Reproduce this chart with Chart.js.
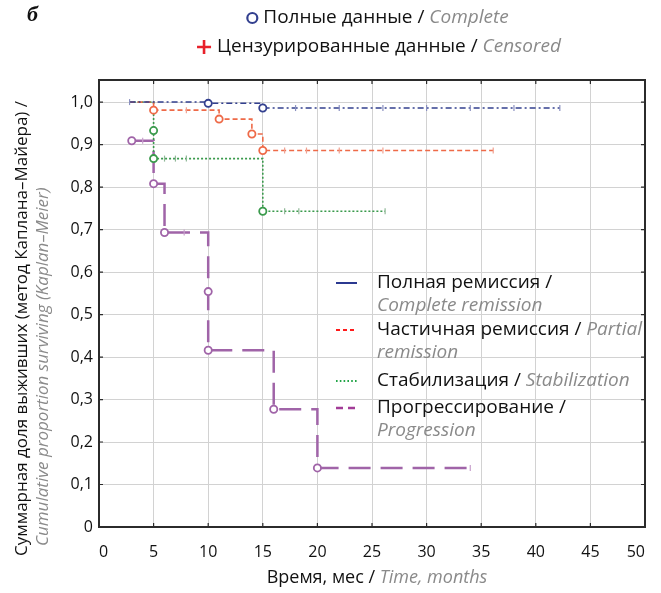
<!DOCTYPE html>
<html>
<head>
<meta charset="utf-8">
<script src="https://cdn.jsdelivr.net/npm/chart.js@4.4.1/dist/chart.umd.min.js"></script>
<style>
  html, body { margin: 0; padding: 0; background: #fff; }
  #wrap { position: relative; width: 661px; height: 593px; }
</style>
</head>
<body>
<div id="wrap"><canvas id="km" width="661" height="593"></canvas></div>
<script>
// Kaplan–Meier curves: time in months, cumulative proportion surviving
const completeTime = [2.8, 10, 15, 42.2];
const completeSurv = [1.0, 0.997, 0.986, 0.986];
const completeEventTime = [10, 15];
const completeEventSurv = [0.997, 0.986];
const completeCensorTime = [2.8, 18, 22, 26, 30, 34, 38, 42.2];

const partialTime = [2.8, 5, 11, 14, 15, 36.1];
const partialSurv = [1.0, 0.981, 0.96, 0.925, 0.886, 0.886];
const partialEventTime = [5, 11, 14, 15];
const partialEventSurv = [0.981, 0.96, 0.925, 0.886];
const partialCensorTime = [8, 17, 19, 22, 26, 36.1];

const stabTime = [2.8, 5, 5, 15, 26.2];
const stabSurv = [1.0, 0.933, 0.867, 0.743, 0.743];
const stabEventTime = [5, 5, 15];
const stabEventSurv = [0.933, 0.867, 0.743];
const stabCensorTime = [6, 7, 8, 17, 18.3, 26.2];

const progTime = [3, 5, 6, 10, 10, 16, 20, 34];
const progSurv = [0.909, 0.808, 0.693, 0.554, 0.416, 0.277, 0.139, 0.139];
const progEventTime = [3, 5, 6, 10, 10, 16, 20];
const progEventSurv = [0.909, 0.808, 0.693, 0.554, 0.416, 0.277, 0.139];
const progCensorTime = [4, 7.8, 34];

const xTicks = [0, 5, 10, 15, 20, 25, 30, 35, 40, 45, 50];
const yTicks = [0, 0.1, 0.2, 0.3, 0.4, 0.5, 0.6, 0.7, 0.8, 0.9, 1.0];

const BLUE = '#33408f';
const RED = '#ee6a48';
const GREEN = '#3a9a4c';
const PURPLE = '#a064a8';
const GRAY = '#8a8a8a';
const FONT = '"Open Sans", sans-serif';

// value of the step curve at time t
function survAt(times, surv, t) {
    let s = surv[0];
    for (let i = 0; i < times.length; i++) {
        if (times[i] <= t) s = surv[i];
    }
    return s;
}

// 'before' in Chart.js = horizontal run first, then the drop
function stepLine(times, surv, color, dash, width) {
    return {
        data: times.map((t, i) => ({ x: t, y: surv[i] })),
        stepped: 'before',
        borderColor: color,
        borderDash: dash,
        borderWidth: width,
        pointRadius: 0,
        fill: false,
        order: 3
    };
}

function eventMarks(times, surv, color) {
    return {
        data: times.map((t, i) => ({ x: t, y: surv[i] })),
        showLine: false,
        pointStyle: 'circle',
        pointRadius: 3.6,
        pointBorderWidth: 1.8,
        pointBorderColor: color,
        pointBackgroundColor: '#fff',
        order: 1
    };
}

function censorMarks(times, curveT, curveS, color) {
    return {
        data: times.map(t => ({ x: t, y: survAt(curveT, curveS, t) })),
        showLine: false,
        pointStyle: 'line',
        rotation: 90,
        pointRadius: 3,
        pointBorderWidth: 1.2,
        pointBorderColor: color,
        order: 2
    };
}

// frame with inward tick marks
const framePlugin = {
    id: 'frame',
    afterDraw(chart) {
        const { ctx, chartArea: a, scales } = chart;
        ctx.save();
        ctx.strokeStyle = '#2b2b2b';
        ctx.lineWidth = 1.2;
        ctx.beginPath();
        xTicks.forEach(v => {
            const px = scales.x.getPixelForValue(v);
            ctx.moveTo(px, a.top); ctx.lineTo(px, a.top + 4);
            ctx.moveTo(px, a.bottom); ctx.lineTo(px, a.bottom - 4);
        });
        yTicks.forEach(v => {
            const py = scales.y.getPixelForValue(v);
            ctx.moveTo(a.left, py); ctx.lineTo(a.left + 4, py);
            ctx.moveTo(a.right, py); ctx.lineTo(a.right - 4, py);
        });
        ctx.stroke();
        ctx.lineWidth = 2;
        ctx.strokeRect(a.left, a.top, a.right - a.left, a.bottom - a.top);
        ctx.restore();
    }
};

// mixed black / grey italic text runs
function runWidth(ctx, parts, size) {
    let w = 0;
    parts.forEach(([txt, it]) => {
        ctx.font = (it ? 'italic ' : '') + size + 'px ' + FONT;
        w += ctx.measureText(txt).width;
    });
    return w;
}
function drawRuns(ctx, parts, x, y, size) {
    let cx = x;
    ctx.textBaseline = 'middle';
    ctx.textAlign = 'left';
    parts.forEach(([txt, it]) => {
        ctx.font = (it ? 'italic ' : '') + size + 'px ' + FONT;
        ctx.fillStyle = it ? GRAY : '#111';
        ctx.fillText(txt, cx, y);
        cx += ctx.measureText(txt).width;
    });
}

const textPlugin = {
    id: 'texts',
    afterDraw(chart) {
        const ctx = chart.ctx;
        ctx.save();

        // panel letter
        ctx.font = 'italic bold 22px "Liberation Serif", serif';
        ctx.fillStyle = '#111';
        ctx.textBaseline = 'middle';
        ctx.fillText('б', 27, 15);

        // marker legend, both rows centred on one axis
        const mid = 378;
        const row1 = [['Полные данные / ', false], ['Complete', true]];
        const row2 = [['Цензурированные данные / ', false], ['Censored', true]];
        const x1 = mid - (runWidth(ctx, row1, 19) + 16) / 2;
        const x2 = mid - (runWidth(ctx, row2, 19) + 18) / 2;

        ctx.strokeStyle = BLUE;
        ctx.lineWidth = 2.2;
        ctx.beginPath();
        ctx.arc(x1 + 5, 18, 5, 0, Math.PI * 2);
        ctx.stroke();
        drawRuns(ctx, row1, x1 + 16, 18, 19);

        ctx.strokeStyle = '#e8202a';
        ctx.lineWidth = 2.6;
        ctx.beginPath();
        ctx.moveTo(x2, 47); ctx.lineTo(x2 + 14, 47);
        ctx.moveTo(x2 + 7, 40); ctx.lineTo(x2 + 7, 54);
        ctx.stroke();
        drawRuns(ctx, row2, x2 + 20, 47, 19);

        // line legend
        const items = [
            { color: '#2b3990', dash: [], width: 2, y: 283,
              lines: [[['Полная ремиссия / ', false]], [['Complete remission', true]]] },
            { color: '#ff1a1a', dash: [4, 3], width: 2, y: 330,
              lines: [[['Частичная ремиссия / ', false], ['Partial', true]], [['remission', true]]] },
            { color: '#22a447', dash: [1.6, 2.2], width: 2, y: 381,
              lines: [[['Стабилизация / ', false], ['Stabilization', true]]] },
            { color: '#a23c97', dash: [7, 5], width: 2.6, y: 408,
              lines: [[['Прогрессирование / ', false]], [['Progression', true]]] }
        ];
        items.forEach(it => {
            ctx.strokeStyle = it.color;
            ctx.lineWidth = it.width;
            ctx.setLineDash(it.dash);
            ctx.beginPath();
            ctx.moveTo(336, it.y); ctx.lineTo(357, it.y);
            ctx.stroke();
            ctx.setLineDash([]);
            it.lines.forEach((parts, k) => drawRuns(ctx, parts, 377, it.y + k * 23, 19));
        });

        // axis titles
        const xt = [['Время, мес / ', false], ['Time, months', true]];
        drawRuns(ctx, xt, 377 - runWidth(ctx, xt, 18) / 2, 578, 18);

        ctx.translate(22, 556);
        ctx.rotate(-Math.PI / 2);
        drawRuns(ctx, [['Суммарная доля выживших (метод Каплана–Майера) /', false]], 0, 0, 17);
        drawRuns(ctx, [['Cumulative proportion surviving (Kaplan–Meier)', true]], 10, 21, 17);
        ctx.restore();
    }
};

const ctx = document.getElementById('km').getContext('2d');
new Chart(ctx, {
    type: 'line',
    data: {
        datasets: [
            stepLine(completeTime, completeSurv, BLUE, [6, 3, 2, 3], 1.5),
            stepLine(partialTime, partialSurv, RED, [5, 3], 1.6),
            stepLine(stabTime, stabSurv, GREEN, [2, 2], 1.6),
            stepLine(progTime, progSurv, PURPLE, [22, 10], 2.5),
            censorMarks(completeCensorTime, completeTime, completeSurv, '#8a90c0'),
            censorMarks(partialCensorTime, partialTime, partialSurv, '#f0a090'),
            censorMarks(stabCensorTime, stabTime, stabSurv, '#90b898'),
            censorMarks(progCensorTime, progTime, progSurv, '#c8a0cc'),
            eventMarks(completeEventTime, completeEventSurv, BLUE),
            eventMarks(partialEventTime, partialEventSurv, RED),
            eventMarks(stabEventTime, stabEventSurv, GREEN),
            eventMarks(progEventTime, progEventSurv, PURPLE)
        ]
    },
    options: {
        responsive: false,
        animation: false,
        layout: { padding: { top: 80, right: 9, left: 0, bottom: 0 } },
        plugins: { legend: { display: false }, tooltip: { enabled: false } },
        scales: {
            x: {
                type: 'linear',
                min: 0,
                max: 50,
                afterFit: s => { s.height = 66; },
                afterBuildTicks: s => { s.ticks = xTicks.map(v => ({ value: v })); },
                ticks: { align: 'inner', padding: 16, color: '#111', font: { family: FONT, size: 16 } },
                grid: { color: '#d2d2d2', drawTicks: false },
                border: { display: false }
            },
            y: {
                type: 'linear',
                min: 0,
                max: 1.052,
                afterFit: s => { s.width = 99; },
                afterBuildTicks: s => { s.ticks = yTicks.map(v => ({ value: v })); },
                ticks: {
                    padding: 6,
                    color: '#111',
                    font: { family: FONT, size: 16 },
                    callback: v => v === 0 ? '0' : v.toFixed(1).replace('.', ',')
                },
                grid: { color: '#d2d2d2', drawTicks: false },
                border: { display: false }
            }
        }
    },
    plugins: [framePlugin, textPlugin]
});
</script>
</body>
</html>
